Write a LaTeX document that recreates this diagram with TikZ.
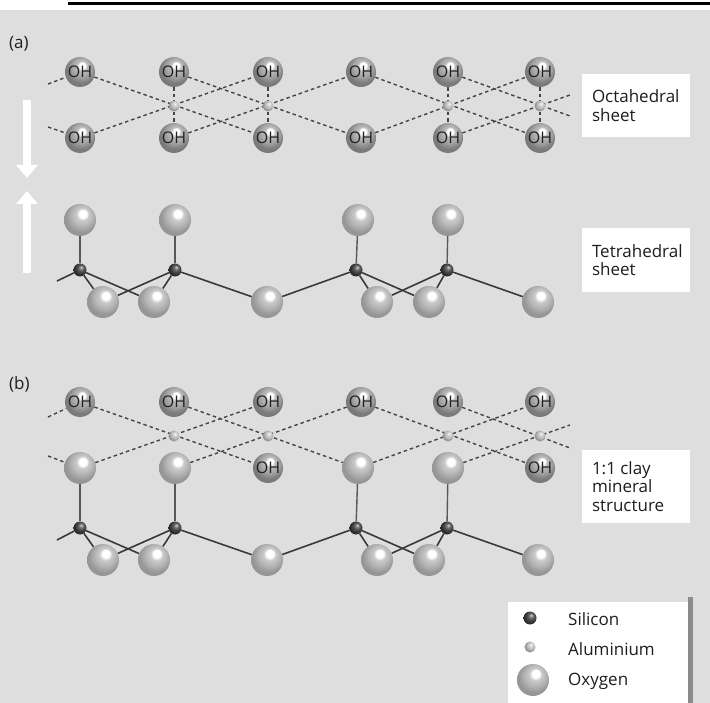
\documentclass[tikz,border=0pt]{standalone}
\usepackage{fontspec}
\setmainfont{Open Sans}
\usetikzlibrary{arrows.meta}

\definecolor{paper}{HTML}{DEDEDE}
\definecolor{ink}{HTML}{1E1E1E}
\definecolor{dashink}{HTML}{444444}
\definecolor{bondink}{HTML}{3A3A3A}
\definecolor{shadowgray}{HTML}{8C8C8C}
% sphere colours
\definecolor{ohA}{HTML}{BCBCBC}
\definecolor{ohB}{HTML}{A4A4A4}
\definecolor{ohC}{HTML}{7A7A7A}
\definecolor{oxA}{HTML}{CACACA}
\definecolor{oxB}{HTML}{B4B4B4}
\definecolor{oxC}{HTML}{969696}
\definecolor{siA}{HTML}{8A8A8A}
\definecolor{siB}{HTML}{4E4E4E}
\definecolor{siC}{HTML}{2A2A2A}
\definecolor{alA}{HTML}{D8D8D8}
\definecolor{alB}{HTML}{C0C0C0}
\definecolor{alC}{HTML}{949494}

% radial shadings lit from the upper right
\pgfdeclareradialshading{ohshade}{\pgfqpoint{4bp}{12bp}}{color(0bp)=(white); color(5bp)=(white); color(8.5bp)=(ohA); color(16bp)=(ohB); color(25bp)=(ohC); color(50bp)=(ohC)}
\pgfdeclareradialshading{oxshade}{\pgfqpoint{5bp}{11bp}}{color(0bp)=(white); color(6bp)=(white); color(9.5bp)=(oxA); color(17bp)=(oxB); color(25bp)=(oxC); color(50bp)=(oxC)}
\pgfdeclareradialshading{sishade}{\pgfqpoint{5bp}{11bp}}{color(0bp)=(white!80!gray); color(5bp)=(siA); color(14bp)=(siB); color(25bp)=(siC); color(50bp)=(siC)}
\pgfdeclareradialshading{alshade}{\pgfqpoint{5bp}{11bp}}{color(0bp)=(white); color(6bp)=(alA); color(15bp)=(alB); color(25bp)=(alC); color(50bp)=(alC)}

\pgfdeclarelayer{paperlayer}
\pgfdeclarelayer{bondlayer}
\pgfsetlayers{paperlayer,bondlayer,main}

\tikzset{
  ohball/.style={circle, inner sep=0pt, minimum size=30pt, shading=ohshade,
    font=\fontsize{16}{16}\selectfont, text=ink},
  oxball/.style={circle, inner sep=0pt, minimum size=32pt, shading=oxshade},
  siball/.style={circle, inner sep=0pt, minimum size=13pt, shading=sishade},
  alball/.style={circle, inner sep=0pt, minimum size=11pt, shading=alshade},
  dbond/.style={draw=dashink, line width=1.4pt, dash pattern=on 3.5pt off 3pt},
  sbond/.style={draw=bondink, line width=1.6pt},
  apbond/.style={draw=bondink!85!white, line width=1.4pt},
  labelbox/.style={rectangle, fill=white, inner sep=0pt},
  labeltext/.style={anchor=west, align=left, inner sep=0pt, text=ink,
    font=\fontsize{17}{18.5}\selectfont},
  parttag/.style={anchor=west, inner sep=0pt, text=ink,
    font=\fontsize{17}{18}\selectfont},
  bigarrow/.style={draw=white, line width=8pt,
    -{Triangle[width=21pt,length=13pt]}}
}

\begin{document}
\begin{tikzpicture}[x=1pt, y=-1pt]
\useasboundingbox (0,0) rectangle (710,703);

\begin{pgfonlayer}{paperlayer}
  \fill[paper] (0,10) rectangle (710,703);
  \fill[black] (68,1.8) rectangle (710,4.6);
\end{pgfonlayer}

% ---------- (a) octahedral sheet ----------
\node[parttag] (tagA) at (9,44) {(a)};
\foreach \i/\x in {0/80,1/174,2/268,3/361,4/448,5/540}{
  \node[ohball] (at\i) at (\x,72) {OH};
  \node[ohball] (ab\i) at (\x,138) {OH};
}
\foreach \i/\x in {1/174,2/268,4/448,5/540}{
  \node[alball] (aal\i) at (\x,106) {};
}
\coordinate (aL1) at (48,84);
\coordinate (aL2) at (48,127);
\coordinate (aR1) at (570,116);
\coordinate (aR2) at (570,95);

\begin{pgfonlayer}{bondlayer}
  \draw[dbond] (aL1) -- (at0);
  \draw[dbond] (aL2) -- (ab0);
  \draw[dbond] (at0) -- (ab2);
  \draw[dbond] (ab0) -- (at2);
  \draw[dbond] (at1) -- (ab3);
  \draw[dbond] (ab1) -- (at3);
  \draw[dbond] (at3) -- (ab5);
  \draw[dbond] (ab3) -- (at5);
  \draw[dbond] (at4) -- (aR1);
  \draw[dbond] (ab4) -- (aR2);
  \foreach \i in {1,2,4,5}{
    \draw[dbond] (at\i) -- (aal\i);
    \draw[dbond] (aal\i) -- (ab\i);
  }
\end{pgfonlayer}

\node[labelbox, minimum width=108pt, minimum height=63pt] (octbox) at (636,105.5) {};
\node[labeltext] (octtext) at ([xshift=10pt]octbox.west) {Octahedral\\sheet};

% ---------- movement arrows ----------
\coordinate (dnTail) at (27,100);
\coordinate (dnTip) at (27,178);
\coordinate (upTail) at (27,273);
\coordinate (upTip) at (27,191);
\draw[bigarrow] (dnTail) -- (dnTip);
\draw[bigarrow] (upTail) -- (upTip);

% ---------- (a) tetrahedral sheet ----------
\foreach \i/\x in {0/80,1/175,3/358,4/448}{
  \node[oxball] (aap\i) at (\x,220) {};
}
\foreach \i/\x in {0/80,1/175,3/356,4/447}{
  \node[siball] (asi\i) at (\x,270) {};
}
\foreach \i/\x in {0/103,1/154,2/267,3/377,4/429,5/538}{
  \node[oxball] (abs\i) at (\x,302) {};
}
\coordinate (atL) at (57,281);

\begin{pgfonlayer}{bondlayer}
  \foreach \i in {0,1,3,4}{ \draw[apbond] (aap\i) -- (asi\i); }
  \draw[sbond] (atL) -- (asi0);
  \draw[sbond] (asi0) -- (abs0);
  \draw[sbond] (asi0) -- (abs1);
  \draw[sbond] (asi1) -- (abs0);
  \draw[sbond] (asi1) -- (abs1);
  \draw[sbond] (asi1) -- (abs2);
  \draw[sbond] (asi3) -- (abs2);
  \draw[sbond] (asi3) -- (abs3);
  \draw[sbond] (asi3) -- (abs4);
  \draw[sbond] (asi4) -- (abs3);
  \draw[sbond] (asi4) -- (abs4);
  \draw[sbond] (asi4) -- (abs5);
\end{pgfonlayer}

\node[labelbox, minimum width=108pt, minimum height=64pt] (tetbox) at (636,260) {};
\node[labeltext] (tettext) at ([xshift=10pt]tetbox.west) {Tetrahedral\\sheet};

% ---------- (b) 1:1 layer ----------
\node[parttag] (tagB) at (9,384) {(b)};
\foreach \i/\x in {0/80,1/174,2/268,3/361,4/448,5/540}{
  \node[ohball] (bt\i) at (\x,402) {OH};
}
\foreach \i/\x in {1/174,2/268,4/448,5/540}{
  \node[alball] (bal\i) at (\x,436) {};
}
\node[oxball] (bb0) at (80,468) {};
\node[oxball] (bb1) at (175,468) {};
\node[ohball] (bb2) at (268,468) {OH};
\node[oxball] (bb3) at (358,468) {};
\node[oxball] (bb4) at (448,468) {};
\node[ohball] (bb5) at (540,468) {OH};
\coordinate (bL1) at (48,417);
\coordinate (bL2) at (48,456);
\coordinate (bR1) at (570,448);
\coordinate (bR2) at (570,425);

\foreach \i/\x in {0/80,1/175,3/356,4/447}{
  \node[siball] (bsi\i) at (\x,528) {};
}
\foreach \i/\x in {0/103,1/154,2/267,3/377,4/429,5/538}{
  \node[oxball] (bbs\i) at (\x,560) {};
}
\coordinate (btL) at (57,540);

\begin{pgfonlayer}{bondlayer}
  \draw[dbond] (bL1) -- (bt0);
  \draw[dbond] (bL2) -- (bb0);
  \draw[dbond] (bt0) -- (bb2);
  \draw[dbond] (bb0) -- (bt2);
  \draw[dbond] (bt1) -- (bb3);
  \draw[dbond] (bb1) -- (bt3);
  \draw[dbond] (bt3) -- (bb5);
  \draw[dbond] (bb3) -- (bt5);
  \draw[dbond] (bt4) -- (bR1);
  \draw[dbond] (bb4) -- (bR2);
  \foreach \i in {0,1,3,4}{ \draw[apbond] (bb\i) -- (bsi\i); }
  \draw[sbond] (btL) -- (bsi0);
  \draw[sbond] (bsi0) -- (bbs0);
  \draw[sbond] (bsi0) -- (bbs1);
  \draw[sbond] (bsi1) -- (bbs0);
  \draw[sbond] (bsi1) -- (bbs1);
  \draw[sbond] (bsi1) -- (bbs2);
  \draw[sbond] (bsi3) -- (bbs2);
  \draw[sbond] (bsi3) -- (bbs3);
  \draw[sbond] (bsi3) -- (bbs4);
  \draw[sbond] (bsi4) -- (bbs3);
  \draw[sbond] (bsi4) -- (bbs4);
  \draw[sbond] (bsi4) -- (bbs5);
\end{pgfonlayer}

\node[labelbox, minimum width=108pt, minimum height=73pt] (claybox) at (636,486.5) {};
\node[labeltext] (claytext) at ([xshift=10pt]claybox.west) {1:1 clay\\mineral\\structure};

% ---------- key ----------
\node[labelbox, minimum width=182pt, minimum height=101pt] (key) at (599,652.5) {};
\fill[shadowgray] ([shift={(-2pt,5pt)}]key.north east) rectangle ([shift={(2.5pt,0pt)}]key.south east);
\node[siball] (keySi) at (530,618) {};
\node[alball] (keyAl) at (530,647) {};
\node[oxball] (keyO) at (533,680) {};
\node[labeltext] (keySiText) at (568,619) {Silicon};
\node[labeltext] (keyAlText) at (568,649) {Aluminium};
\node[labeltext] (keyOText) at (568,681) {Oxygen};
\end{tikzpicture}
\end{document}
